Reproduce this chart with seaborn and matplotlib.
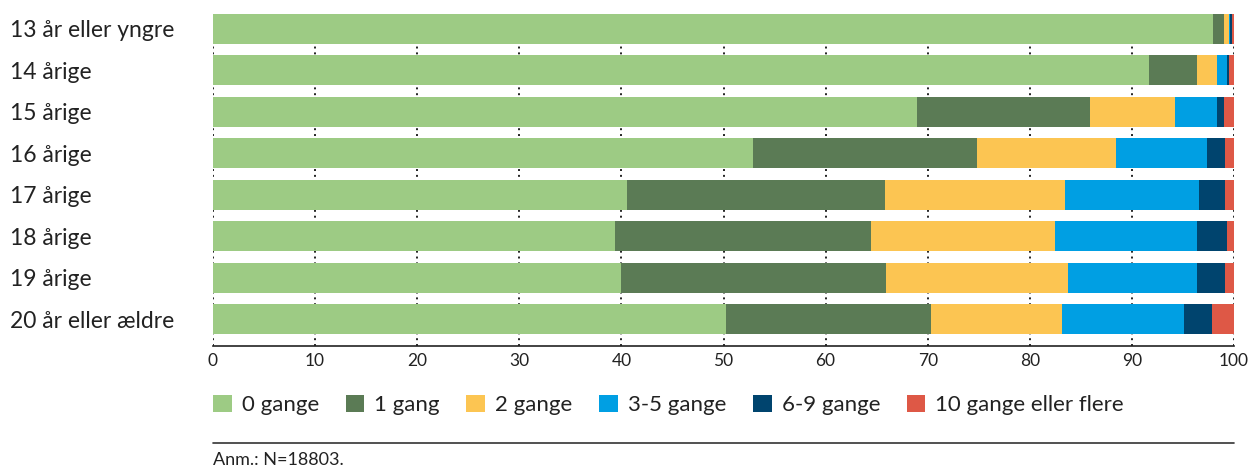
import pandas as pd
import matplotlib.pyplot as plt
import seaborn as sns
from matplotlib.patches import Patch
from matplotlib.lines import Line2D

# data (percent per age group)
ages = ['13 år eller yngre', '14 årige', '15 årige', '16 årige',
        '17 årige', '18 årige', '19 årige', '20 år eller ældre']
series = ['0 gange', '1 gang', '2 gange', '3-5 gange', '6-9 gange', '10 gange eller flere']
g0 = [97.9, 91.7, 69.0, 52.9, 40.5, 39.4, 40.0, 50.2]
g1 = [1.1, 4.7, 16.9, 21.9, 25.3, 25.0, 25.9, 20.1]
g2 = [0.5, 1.9, 8.3, 13.6, 17.6, 18.1, 17.8, 12.9]
g3_5 = [0.1, 1.0, 4.1, 9.0, 13.2, 13.9, 12.7, 11.9]
g6_9 = [0.2, 0.2, 0.7, 1.7, 2.5, 2.9, 2.7, 2.7]
g10 = [0.2, 0.5, 1.0, 0.9, 0.9, 0.7, 0.9, 2.2]
colors = ['#9dcb84', '#5b7b55', '#fcc552', '#009fe3', '#00446e', '#de5846']

df = pd.DataFrame({'age': ages, '0 gange': g0, '1 gang': g1, '2 gange': g2,
                   '3-5 gange': g3_5, '6-9 gange': g6_9, '10 gange eller flere': g10})
cum = df[series].cumsum(axis=1)
cum['age'] = ages

sns.set_style('white')
plt.rcParams['font.family'] = ['Lato', 'DejaVu Sans']

fig = plt.figure(figsize=(12.51, 4.66), dpi=100)
ax = fig.add_axes([213/1251, 1-346/466, (1234-213)/1251, 332/466])

# stacked bars: draw cumulative totals from the largest down
for s, c in reversed(list(zip(series, colors))):
    sns.barplot(data=cum, x=s, y='age', color=c, orient='h', width=0.72,
                saturation=1, ax=ax, zorder=3, linewidth=0)

ax.set_xlim(0, 100)
ax.set_ylim(7.65, -0.36)
ax.set_xticks(range(0, 101, 10))
ax.set_xlabel('')
ax.set_ylabel('')
ax.grid(axis='x', color='#222222', linestyle=(0, (1, 2)), linewidth=1.4, zorder=0)
ax.grid(axis='y', visible=False)
ax.set_axisbelow(True)
for sp in ['top', 'right', 'left']:
    ax.spines[sp].set_visible(False)
ax.spines['bottom'].set_color('#222222')
ax.spines['bottom'].set_linewidth(1.2)
ax.tick_params(axis='x', length=0, pad=5, labelsize=12.5, labelcolor='#222222')
ax.tick_params(axis='y', length=0, pad=146, labelsize=16.5, labelcolor='#222222')
for lab in ax.get_yticklabels():
    lab.set_horizontalalignment('left')

handles = [Patch(facecolor=c, edgecolor='none', label=s) for s, c in zip(series, colors)]
fig.legend(handles=handles, loc='center left', bbox_to_anchor=(193/1251, 1-405/466),
           ncol=6, frameon=False, fontsize=16, handlelength=0.85, handleheight=0.85,
           handletextpad=0.45, columnspacing=1.19, labelcolor='#222222')

fig.add_artist(Line2D([213/1251, 1234/1251], [1-443/466, 1-443/466],
                      color='#333333', linewidth=1.2))
fig.text(213/1251, 1-460/466, 'Anm.: N=18803.', fontsize=13, color='#222222',
         va='center', ha='left')

fig.savefig('out.png', dpi=100)
